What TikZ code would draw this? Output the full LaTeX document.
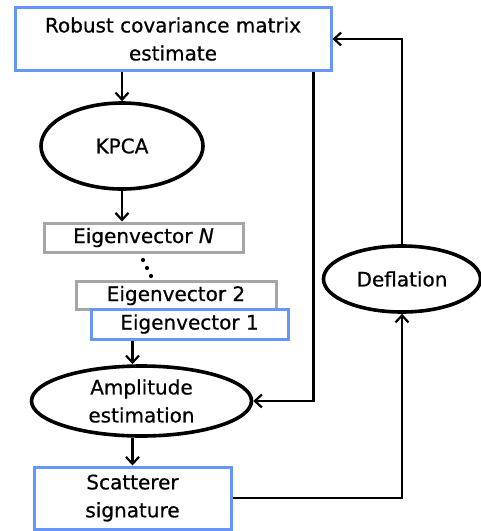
\documentclass[tikz,border=0pt]{standalone}
\usepackage{fontspec}
\setmainfont{DejaVu Sans}[FakeBold=0.6]
\usepackage{tikz}
\usetikzlibrary{arrows.meta,shapes.geometric}
\definecolor{boxblue}{RGB}{102,150,250}
\definecolor{boxgray}{RGB}{166,166,166}

\begin{document}
\begin{tikzpicture}[x=1pt,y=-1pt,
		font=\fontsize{20}{28}\selectfont,
		bluebox/.style={draw=boxblue,line width=3pt,fill=white,rectangle,align=center,inner sep=0pt},
		graybox/.style={draw=boxgray,line width=3pt,fill=white,rectangle,align=center,inner sep=0pt},
		oval/.style={draw=black,line width=3.6pt,ellipse,align=center,inner sep=0pt},
		arr/.style={line width=2.2pt,-{Straight Barb[length=7pt,width=13pt,line width=2.2pt]}}]
		\useasboundingbox (0,0) rectangle (481,531);
		\node[bluebox,minimum width=316,minimum height=63] (robust) at (173,39) {\raisebox{-2pt}{Robust covariance matrix}\\\raisebox{-2pt}{estimate}};
		\node[oval,minimum width=162,minimum height=86] (kpca) at (122,146) {KPCA};
		\node[graybox,minimum width=199,minimum height=29] (eigN) at (143.5,237.5) {Eigenvector \textit{N}};
		\node[graybox,minimum width=200,minimum height=28] (eig2) at (176,295.5) {\raisebox{-5pt}{Eigenvector 2}};
		\node[bluebox,minimum width=197,minimum height=30] (eig1) at (189.5,324) {Eigenvector 1};
		\node[oval,minimum width=220,minimum height=70] (ampl) at (141.5,401) {Amplitude\\estimation};
		\node[bluebox,minimum width=197,minimum height=62] (scat) at (132.5,498) {Scatterer\\signature};
		\node[oval,minimum width=157,minimum height=66] (defl) at (402,279) {Deflation};
		% dots between the eigenvectors
		\foreach \p in {(143,260),(147,268),(151,276)}
			\fill \p circle (2.1);
		\draw[arr] (kpca.north |- robust.south) -- (kpca.north);
		\draw[arr] (kpca.south) -- (kpca.south |- eigN.north);
		\draw[arr] (eig1.south -| scat.north) -- (ampl.north -| scat.north);
		\draw[arr] (ampl.south -| scat.north) -- (scat.north);
		\draw[arr] (scat.east) -| (defl.south);
		\draw[arr] (defl.north) |- (robust.east);
		\draw[arr] ([xshift=-19]robust.south east) |- (ampl.east);
	\end{tikzpicture}
\end{document}
